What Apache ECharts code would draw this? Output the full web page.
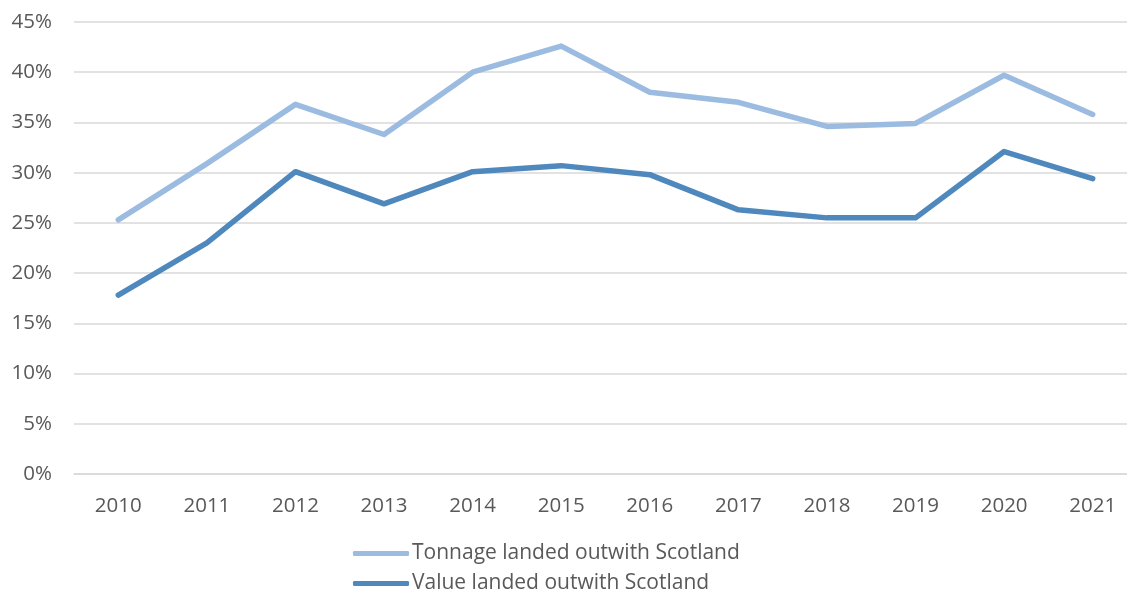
<!DOCTYPE html>
<html>
<head>
<meta charset="utf-8">
<script src="https://cdn.jsdelivr.net/npm/echarts@6/dist/echarts.min.js"></script>
<style>html,body{margin:0;padding:0;background:#fff}#c{width:1127px;height:592px}</style>
</head>
<body>
<div id="c"></div>
<script>
const years = ['2010','2011','2012','2013','2014','2015','2016','2017','2018','2019','2020','2021'];
const tonnage = [25.3, 30.9, 36.8, 33.8, 40.0, 42.6, 38.0, 37.0, 34.6, 34.9, 39.7, 35.8];
const value = [17.8, 23.0, 30.1, 26.9, 30.1, 30.7, 29.8, 26.3, 25.5, 25.5, 32.1, 29.4];
const seriesNames = ['Tonnage landed outwith Scotland', 'Value landed outwith Scotland'];
const colors = ['#9BBBE0', '#4F88BD'];

const chart = echarts.init(document.getElementById('c'), null, {renderer: 'canvas'});
const font = "'Open Sans', 'Liberation Sans', sans-serif";
const legendBase = {
  orient: 'vertical',
  left: 353, width: 600, padding: 0,
  itemWidth: 56, itemHeight: 5,
  icon: 'roundRect',
  textStyle: {color: '#595959', fontSize: 21, fontFamily: font, lineHeight: 20, padding: [0,0,0,-2]}
};
chart.setOption({
  animation: false,
  backgroundColor: '#fff',
  grid: {left: 74, right: -10, top: 22, bottom: 118, containLabel: false, outerBoundsMode: 'none'},
  xAxis: {
    type: 'category',
    data: years,
    boundaryGap: true,
    axisLine: {show: true, lineStyle: {color: '#d9d9d9', width: 1.5}},
    axisTick: {show: false},
    axisLabel: {color: '#595959', fontSize: 20.5, fontFamily: font, margin: 22}
  },
  yAxis: {
    type: 'value',
    min: 0, max: 45, interval: 5,
    axisLine: {show: false},
    axisTick: {show: false},
    splitLine: {lineStyle: {color: '#d9d9d9', width: 1.5}},
    axisLabel: {color: '#595959', fontSize: 20.5, fontFamily: font, margin: 22, formatter: '{value}%'}
  },
  legend: [
    Object.assign({}, legendBase, {top: 543, data: [seriesNames[0]]}),
    Object.assign({}, legendBase, {top: 573, data: [seriesNames[1]]})
  ],
  series: [
    {name: seriesNames[0], type: 'line', data: tonnage, symbol: 'none', lineStyle: {width: 5.5, color: colors[0], cap: 'round', join: 'round'}, itemStyle: {color: colors[0]}},
    {name: seriesNames[1], type: 'line', data: value, symbol: 'none', lineStyle: {width: 5.5, color: colors[1], cap: 'round', join: 'round'}, itemStyle: {color: colors[1]}}
  ]
});
</script>
</body>
</html>
